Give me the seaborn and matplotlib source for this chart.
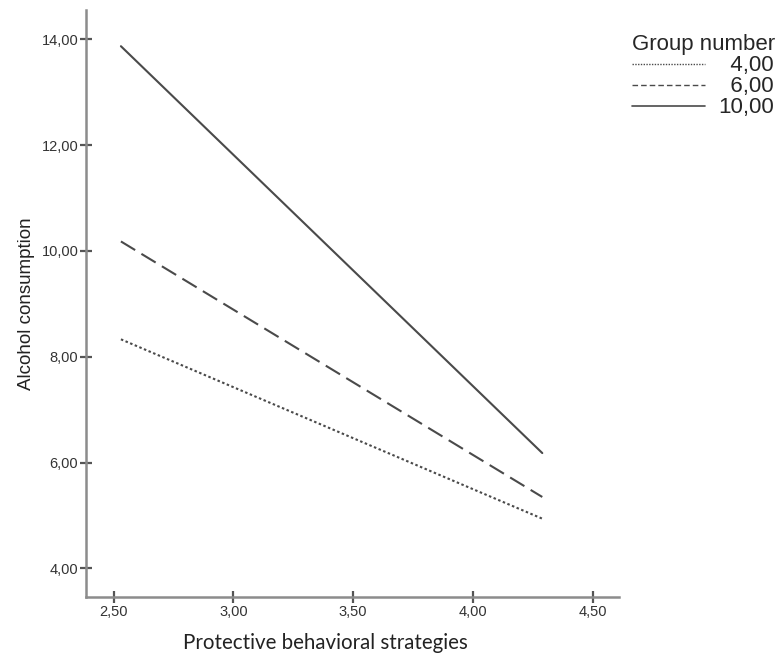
import matplotlib
matplotlib.use('Agg')
import numpy as np
import pandas as pd
import matplotlib.pyplot as plt
from matplotlib.lines import Line2D
import seaborn as sns

# ── Data (simple slopes) ──────────────────────────────────────
PBS_X      = [2.53, 4.29]
GROUPS     = ['4,00', '6,00', '10,00']
ALC_G4     = [8.33, 4.94]
ALC_G6     = [10.18, 5.35]
ALC_G10    = [13.87, 6.18]
X_TICKS    = [2.5, 3.0, 3.5, 4.0, 4.5]
Y_TICKS    = [4, 6, 8, 10, 12, 14]

df = pd.DataFrame({
    'pbs':   PBS_X * 3,
    'alc':   ALC_G4 + ALC_G6 + ALC_G10,
    'group': [g for g in GROUPS for _ in PBS_X],
})

sns.set_theme(style='white')
plt.rcParams['font.family'] = ['Liberation Sans', 'DejaVu Sans']

LINE_C  = '#4a4a4a'
AXIS_C  = '#8c8c8c'
DASHES  = {'4,00': (1.2, 1.2), '6,00': (8, 3.5), '10,00': ''}

fig = plt.figure(figsize=(7.78, 6.6), dpi=100)
ax  = fig.add_axes([0.1105, 0.0955, 0.685, 0.889])

sns.lineplot(data=df, x='pbs', y='alc', hue='group', style='group',
             palette=[LINE_C] * 3, dashes=DASHES, linewidth=1.5,
             legend=False, ax=ax)

ax.set_xlim(2.384, 4.61)
ax.set_ylim(3.46, 14.55)
ax.set_xticks(X_TICKS)
ax.set_yticks(Y_TICKS)
ax.set_xticklabels([f'{v:.2f}'.replace('.', ',') for v in X_TICKS])
ax.set_yticklabels([f'{v:.2f}'.replace('.', ',') for v in Y_TICKS])
ax.tick_params(bottom=True, left=True, direction='inout', length=9,
               width=1.6, color='#555555', labelsize=10.5,
               labelcolor='#333333', pad=1)

for side in ['top', 'right']:
    ax.spines[side].set_visible(False)
for side in ['left', 'bottom']:
    ax.spines[side].set_color(AXIS_C)
    ax.spines[side].set_linewidth(1.8)

ax.set_xlabel('Protective behavioral strategies', fontsize=14.8,
              family='Lato', color='#222222', labelpad=11)
ax.xaxis.set_label_coords(0.45, -0.062)
ax.set_ylabel('Alcohol consumption', fontsize=13.5, color='#222222',
              labelpad=5)

# legend with its own handle styles (shorter dashes than in the plot)
handles = [
    Line2D([], [], color=LINE_C, lw=1.0, dashes=(1.0, 1.0)),
    Line2D([], [], color=LINE_C, lw=1.0, dashes=(4, 2.2)),
    Line2D([], [], color=LINE_C, lw=1.2),
]
labels = ['\u2007' + GROUPS[0], '\u2007' + GROUPS[1], GROUPS[2]]
leg = fig.legend(handles, labels, title='Group number', loc='upper left',
                 bbox_to_anchor=(0.812, 0.948), frameon=False, fontsize=16,
                 title_fontsize=16, handlelength=3.3, handletextpad=0.6,
                 labelspacing=0.0, borderpad=0, borderaxespad=0)
leg._legend_box.align = 'left'

plt.savefig('out.png', dpi=100)
plt.close()
